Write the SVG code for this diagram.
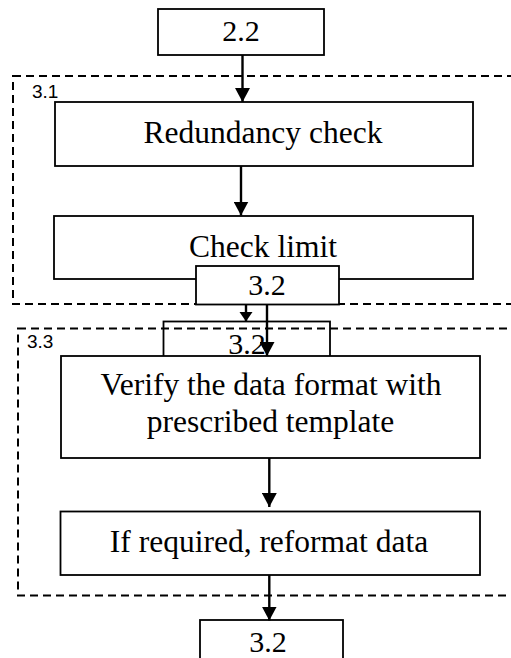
<svg xmlns="http://www.w3.org/2000/svg" width="511" height="658" viewBox="0 0 511 658">
<style>
.box{fill:#fff;stroke:#000;stroke-width:1.8}
.grp{fill:none;stroke:#000;stroke-width:2;stroke-dasharray:8 5}
.t{font-family:"Liberation Serif","Times New Roman",serif;fill:#000;text-anchor:middle}
.lab{font-family:"Liberation Sans",Arial,sans-serif;font-size:19px;fill:#000}
.c{stroke:#000;stroke-width:2.4;fill:none}
</style>
<defs>
<marker id="ah" markerUnits="userSpaceOnUse" markerWidth="15" markerHeight="15" refX="14" refY="7.5" orient="auto">
<path d="M0,0 L14,7.5 L0,15 z" fill="#000"/>
</marker>
<marker id="ahs" markerUnits="userSpaceOnUse" markerWidth="10" markerHeight="14" refX="9.5" refY="6.5" orient="auto">
<path d="M0,0 L9.5,6.5 L0,13 z" fill="#000"/>
</marker>
</defs>
<g id="group-3-1">
<rect class="grp" x="13" y="76" width="520" height="228"/>
<text class="lab" x="32" y="98">3.1</text>
</g>
<g id="n-2-2">
<rect class="box" x="158" y="9" width="166" height="46"/>
<text class="t" x="241" y="40.5" font-size="30">2.2</text>
</g>
<g id="n-redundancy">
<rect class="box" x="55" y="102" width="418" height="64"/>
<text class="t" x="263" y="143" font-size="31.5">Redundancy check</text>
</g>
<g id="n-check-limit">
<rect class="box" x="54" y="216" width="419" height="63"/>
<text class="t" x="263" y="256.5" font-size="31.5">Check limit</text>
</g>
<g id="n-3-2-a">
<rect class="box" x="196" y="266" width="143" height="38.5"/>
<text class="t" x="267" y="295" font-size="30">3.2</text>
</g>
<g id="n-3-2-b">
<rect class="box" x="163.5" y="321.5" width="166.5" height="50"/>
<text class="t" x="247" y="354" font-size="30">3.2</text>
</g>
<g id="group-3-3">
<rect class="grp" x="18" y="328.5" width="520" height="267"/>
<text class="lab" x="27" y="348">3.3</text>
</g>
<g id="n-verify">
<rect class="box" x="61" y="356" width="419" height="102"/>
<text class="t" x="271" y="395" font-size="31.5">Verify the data format with</text>
<text class="t" x="270.5" y="431.5" font-size="31.5">prescribed template</text>
</g>
<g id="n-reformat">
<rect class="box" x="60.5" y="511.5" width="419.5" height="63.5"/>
<text class="t" x="269" y="551.5" font-size="31.5">If required, reformat data</text>
</g>
<g id="n-3-2-c">
<rect class="box" x="200" y="620" width="143" height="60"/>
<text class="t" x="268" y="651.5" font-size="30">3.2</text>
</g>
<g id="connectors">
<line class="c" x1="242.5" y1="55" x2="242.5" y2="102" marker-end="url(#ah)"/>
<line class="c" x1="241" y1="166" x2="241" y2="215.5" marker-end="url(#ah)"/>
<line class="c" x1="246" y1="304.5" x2="246" y2="321.5" marker-end="url(#ahs)"/>
<line class="c" x1="267" y1="304.5" x2="267" y2="356" marker-end="url(#ah)"/>
<line class="c" x1="269.3" y1="458" x2="269.3" y2="507" marker-end="url(#ah)"/>
<line class="c" x1="269.3" y1="575" x2="269.3" y2="620.5" marker-end="url(#ah)"/>
</g>
</svg>
